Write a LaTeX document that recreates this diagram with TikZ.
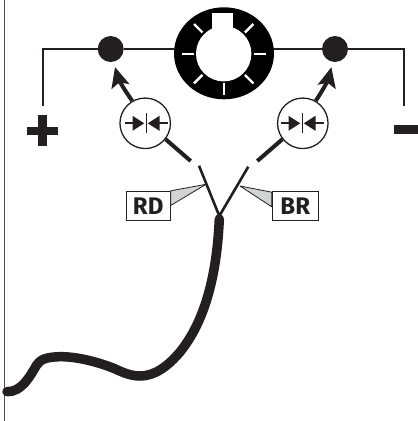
\documentclass[tikz,border=0pt]{standalone}
\usepackage{fontspec}
\setsansfont{Fira Sans}
\usetikzlibrary{calc}
\usetikzlibrary{positioning}
\usetikzlibrary{shapes.geometric}
\usetikzlibrary{arrows.meta}
\definecolor{inkblack}{HTML}{231F20}
\definecolor{calloutgray}{HTML}{D1D3D4}

\begin{document}
\begin{tikzpicture}[x=1pt, y=-1pt, inkblack, line width = 2.2pt,
    junction/.style = {circle, fill = inkblack, inner sep = 0pt, outer sep = 0pt, minimum size = 26pt},
    gauge/.style = {circle, draw, line width = 1.3pt, fill = white, inner sep = 0pt, minimum size = 50.5pt},
    tag/.style = {rectangle, draw, line width = 1pt, fill = white, inner sep = 0pt, minimum width = 44pt, minimum height = 29pt, font = \sffamily\bfseries\fontsize{24}{24}\selectfont},
    callout/.style = {draw, line width = 0.8pt, fill = calloutgray, line join = round},
    bar/.style = {rectangle, fill = inkblack, inner sep = 0pt, outer sep = 0pt},
    tickmark/.style = {white, line width = 2.4pt},
    ]

    \useasboundingbox (0,0) rectangle (418,421);

    \draw[line width = 1.1pt, black!70] (4.5,0) -- (4.5,421);

    % dial
    \node (dial) at (224,53.3) [ellipse, fill = black, inner sep = 0pt, outer sep = 0pt, minimum width = 100pt, minimum height = 92pt] {};
    \coordinate (hub) at (223.7,53.7);
    \fill[white] (hub) circle (27.7);
    \fill[white] (212.3,12.7) rectangle (233,40);
    \foreach \ang in {0,45,135,180,225,315} {
        \draw[tickmark] ($(hub)+(\ang:30)$) -- ($(hub)+(\ang:42)$);
    }
    \draw[tickmark] (223.7,83) -- (223.7,95);

    % terminals
    \node (dotL) at (110.7,49) [junction] {};
    \node (dotR) at (335,49) [junction] {};

    \node (plusH) at (42.5,130.7) [bar, minimum width = 30.5pt, minimum height = 8pt] {};
    \node (plusV) at (42.5,130.7) [bar, minimum width = 8.5pt, minimum height = 31.5pt] {};
    \node (minus) at (406,129.5) [bar, minimum width = 24pt, minimum height = 9pt] {};

    \coordinate (endL) at (43,106);
    \coordinate (endR) at (404.3,106);

    \draw (endL) |- (dotL);
    \draw (dotL) -- (dotL -| dial.west);
    \draw (dotR -| dial.east) -- (dotR);
    \draw (dotR) -| (endR);

    % gauges
    \node (gaugeL) at (145.2,123.3) [gauge] {};
    \node (gaugeR) at (302.8,123.3) [gauge] {};

    \foreach \g/\dx in {gaugeL/0.8,gaugeR/-0.8} {
        \draw[line width = 0.7pt] ($(\g)+(\dx,-10)$) -- ($(\g)+(\dx,9.5)$);
        \draw[line width = 2.2pt] ($(\g)+(\dx-21.5,0)$) -- ($(\g)+(\dx-4,0)$);
        \draw[line width = 2.2pt] ($(\g)+(\dx+21.5,0)$) -- ($(\g)+(\dx+4,0)$);
        \fill ($(\g)+(\dx-13.5,-7.5)$) -- ($(\g)+(\dx-1.8,0)$) -- ($(\g)+(\dx-13.5,7.5)$) -- cycle;
        \fill ($(\g)+(\dx+13.5,-7.5)$) -- ($(\g)+(\dx+1.8,0)$) -- ($(\g)+(\dx+13.5,7.5)$) -- cycle;
    }

    \draw[-{Stealth[length=20pt,width=18pt,inset=4pt]}, line width = 4pt, shorten >=5.5pt] (gaugeL.120) to[bend left = 10] (dotL);
    \draw[-{Stealth[length=20pt,width=18pt,inset=4pt]}, line width = 4pt, shorten >=5.5pt] (gaugeR.60) to[bend right = 10] (dotR);

    % fork and cable
    \coordinate (fork) at (219.3,216);
    \coordinate (forkL) at (199,165.7);
    \coordinate (forkR) at (248.3,166.7);
    \coordinate (stubL) at (190.7,161);
    \coordinate (stubR) at (257.3,161);
    \coordinate (cableEnd) at (7,391.7);

    \draw[line width = 4pt] (gaugeL.-38) -- (stubL);
    \draw[line width = 4pt] (gaugeR.218) -- (stubR);

    \draw[line width = 2.6pt, line join = bevel] (forkL) -- (fork) -- (forkR);

    \draw[line width = 9.5pt, line cap = round] (219.3,219)
        .. controls (217.5,260) and (210,315) .. (180,352)
        .. controls (168,366) and (155,376) .. (140,376)
        .. controls (130,376) and (122,372) .. (113,368)
        .. controls (95,361) and (75,356.5) .. (60,356.7)
        .. controls (45,357) and (40,360) .. (36.7,365)
        .. controls (30,376) and (22,392) .. (cableEnd);

    % labels
    \node (tagRD) at (148.2,205.8) [tag] {RD};
    \node (tagBR) at (295.3,205.8) [tag, minimum width = 46pt] {BR};

    \draw[callout] (tagRD.north east) -- (206,184.3) -- ($(tagRD.north east)+(0,14.7)$) -- cycle;
    \draw[callout] ($(tagBR.north west)+(0,1.4)$) -- (240,186) -- ($(tagBR.north west)+(0,16)$) -- cycle;

\end{tikzpicture}
\end{document}
